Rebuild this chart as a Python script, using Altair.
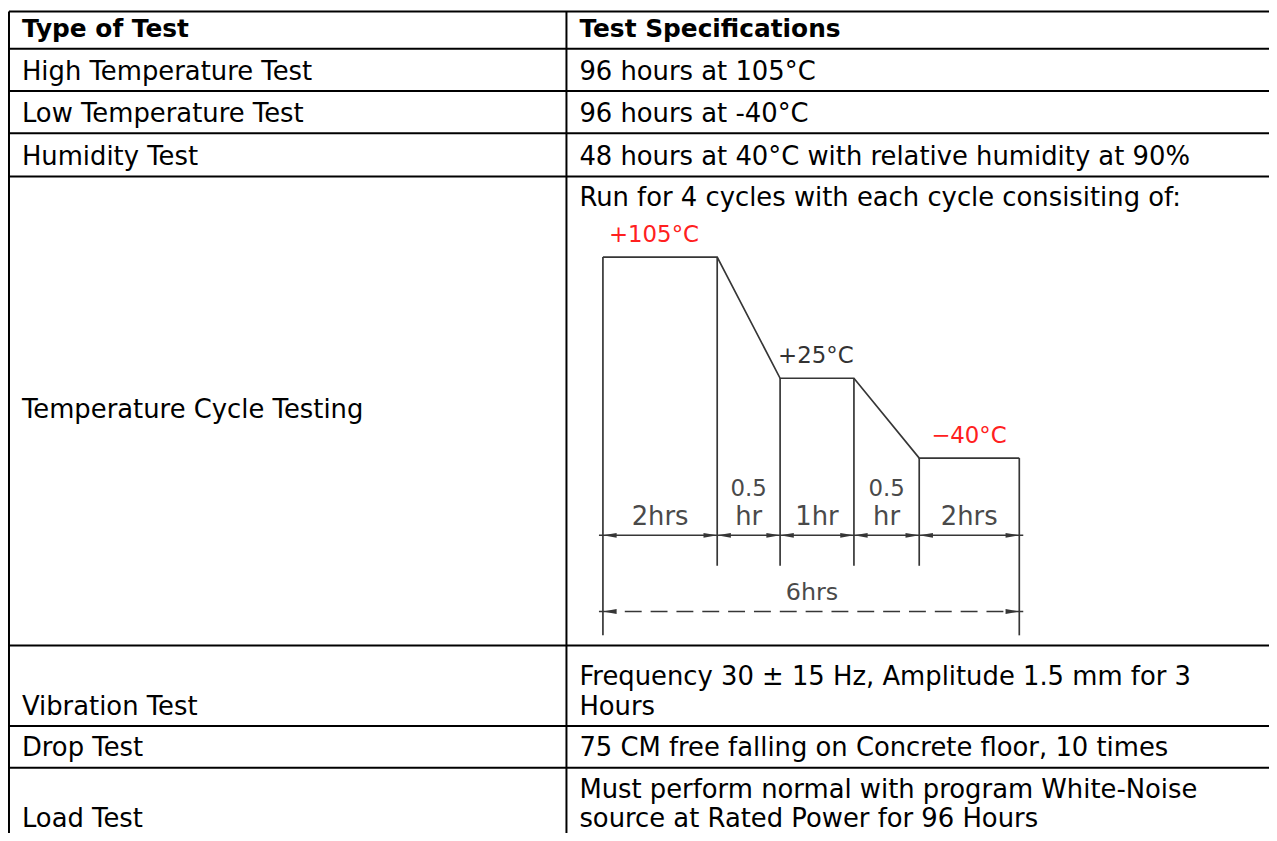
import altair as alt
import pandas as pd

# ---------------- data ----------------
test_types = ["Type of Test", "High Temperature Test", "Low Temperature Test", "Humidity Test",
              "Temperature Cycle Testing", "Vibration Test", "Drop Test", "Load Test"]
spec_lines = [
    ["Test Specifications"],
    ["96 hours at 105°C"],
    ["96 hours at -40°C"],
    ["48 hours at 40°C with relative humidity at 90%"],
    ["Run for 4 cycles with each cycle consisiting of:"],
    ["Frequency 30 ± 15 Hz, Amplitude 1.5 mm for 3", "Hours"],
    ["75 CM free falling on Concrete floor, 10 times"],
    ["Must perform normal with program White-Noise", "source at Rated Power for 96 Hours"],
]
phase_hours = [2, 0.5, 1, 0.5, 2]
phase_label_top = ["", "0.5", "", "0.5", ""]
phase_label_bottom = ["2hrs", "hr", "1hr", "hr", "2hrs"]
plateau_temps = [105, 25, -40]
plateau_labels = ["+105°C", "+25°C", "−40°C"]
total_label = "6hrs"

# ---------------- layout (page pixels) ----------------
PAGE_W, PAGE_H, MARGIN = 1277, 841, 8
W, H = PAGE_W - MARGIN, PAGE_H - 2 * MARGIN
row_bounds = [5, 46.5, 89, 131.5, 175, 647, 728, 770, 841]
border_x = [5, 570]
text_x = [22, 583]
BASE_GAP = 11.5
LINE_GAP = 29.5
FONT = "DejaVu Sans"
FS = 26
FS_HEAD = 25
VIS = MARGIN + 1
# schematic diagram layout
diag_x = [606.7, 721.7, 785, 859.3, 925, 1025.7]
diag_y = [458.3, 378, 256]          # for -40, +25, +105
inner_bottom, outer_bottom = 566.7, 636.7
dim_y, total_y = 536, 612.7
plateau_dx = [6, -2, 12]
plateau_colors = ["#ff2020", "#333333", "#ff2020"]
LINE_C = "#363636"
TXT_C = "#4a4a4a"

X = alt.Scale(domain=[MARGIN, MARGIN + W], range=[0, W], zero=False, nice=False)
Y = alt.Scale(domain=[MARGIN, MARGIN + H], range=[0, H], zero=False, nice=False)

hours_cum = [0.0]
for h in phase_hours:
    hours_cum.append(hours_cum[-1] + h)
DX = alt.Scale(domain=hours_cum, range=[p - MARGIN for p in diag_x], zero=False, nice=False)
temps_sorted = sorted(plateau_temps)
DY = alt.Scale(domain=temps_sorted, range=[p - MARGIN for p in diag_y], zero=False, nice=False)

# ---------------- table ----------------
hl = pd.DataFrame({"y": [max(b, VIS) for b in row_bounds],
                   "x1": [max(border_x[0], VIS)] * len(row_bounds),
                   "x2": [PAGE_W + 5] * len(row_bounds)})
vl = pd.DataFrame({"x": [max(b, VIS) for b in border_x],
                   "y1": [max(row_bounds[0], VIS)] * 2, "y2": [PAGE_H + 5] * 2})

hlines = alt.Chart(hl).mark_rule(color="black", strokeWidth=2).encode(
    x=alt.X("x1:Q", scale=X, axis=None), x2="x2:Q", y=alt.Y("y:Q", scale=Y, axis=None))
vlines = alt.Chart(vl).mark_rule(color="black", strokeWidth=2).encode(
    x=alt.X("x:Q", scale=X, axis=None), y=alt.Y("y1:Q", scale=Y, axis=None), y2="y2:Q")

left_rows, right_rows = [], []
for i, (name, lines) in enumerate(zip(test_types, spec_lines)):
    top, bottom = row_bounds[i], row_bounds[i + 1]
    if name == "Temperature Cycle Testing":
        left_rows.append({"i": i, "t": name, "x": text_x[0], "y": (top + bottom) / 2 + 7})
        for k, s in enumerate(lines):
            right_rows.append({"i": i, "t": s, "x": text_x[1], "y": top + 30 + k * LINE_GAP})
    else:
        left_rows.append({"i": i, "t": name, "x": text_x[0], "y": bottom - BASE_GAP})
        n = len(lines)
        for k, s in enumerate(lines):
            right_rows.append({"i": i, "t": s, "x": text_x[1],
                               "y": bottom - BASE_GAP - (n - 1 - k) * LINE_GAP})
txt = pd.DataFrame(left_rows + right_rows)


def text_layer(df, bold):
    return alt.Chart(df).mark_text(align="left", baseline="alphabetic", font=FONT,
                                   fontSize=FS_HEAD if bold else FS,
                                   fontWeight="bold" if bold else "normal", color="black").encode(
        x=alt.X("x:Q", scale=X, axis=None), y=alt.Y("y:Q", scale=Y, axis=None), text="t:N")


head_txt = text_layer(txt[txt["i"] == 0], True)
body_txt = text_layer(txt[txt["i"] > 0], False)

# ---------------- schematic temperature cycle ----------------
profile_t = [plateau_temps[0], plateau_temps[0], plateau_temps[1], plateau_temps[1],
             plateau_temps[2], plateau_temps[2]]
prof = pd.DataFrame({"h": hours_cum, "t": profile_t, "o": list(range(len(hours_cum)))})
profile = alt.Chart(prof).mark_line(color=LINE_C, strokeWidth=1.7).encode(
    x=alt.X("h:Q", scale=DX, axis=None), y=alt.Y("t:Q", scale=DY, axis=None), order="o:Q")

inner = prof.iloc[1:-1]
outer = prof.iloc[[0, -1]]
v_inner = alt.Chart(inner).mark_rule(color=LINE_C, strokeWidth=1.7).encode(
    x=alt.X("h:Q", scale=DX, axis=None), y=alt.Y("t:Q", scale=DY, axis=None),
    y2=alt.value(inner_bottom - MARGIN))
v_outer = alt.Chart(outer).mark_rule(color=LINE_C, strokeWidth=1.7).encode(
    x=alt.X("h:Q", scale=DX, axis=None), y=alt.Y("t:Q", scale=DY, axis=None),
    y2=alt.value(outer_bottom - MARGIN))

span = pd.DataFrame({"a": [hours_cum[0]], "b": [hours_cum[-1]]})
dim_line = alt.Chart(span).mark_rule(color=LINE_C, strokeWidth=1.7, xOffset=-4, x2Offset=4).encode(
    x=alt.X("a:Q", scale=DX, axis=None), x2="b:Q", y=alt.value(dim_y - MARGIN))
total_line = alt.Chart(span).mark_rule(color=LINE_C, strokeWidth=1.7, strokeDash=[17, 9],
                                       xOffset=-4, x2Offset=4).encode(
    x=alt.X("a:Q", scale=DX, axis=None), x2="b:Q", y=alt.value(total_y - MARGIN))

ARROW_L = "M0,0L2,-0.35L2,0.35Z"
ARROW_R = "M0,0L-2,-0.35L-2,0.35Z"
seg = pd.DataFrame({"s": hours_cum[:-1], "e": hours_cum[1:],
                    "m": [(a + b) / 2 for a, b in zip(hours_cum[:-1], hours_cum[1:])],
                    "top": phase_label_top, "bot": phase_label_bottom})


def arrows(df, field, shape, ypx):
    return alt.Chart(df).mark_point(shape=shape, filled=True, size=190, color=LINE_C,
                                    opacity=1, strokeWidth=0).encode(
        x=alt.X(f"{field}:Q", scale=DX, axis=None), y=alt.value(ypx - MARGIN))


arr = [arrows(seg, "s", ARROW_L, dim_y), arrows(seg, "e", ARROW_R, dim_y),
       arrows(span, "a", ARROW_L, total_y), arrows(span, "b", ARROW_R, total_y)]

DFONT = dict(font=FONT, color=TXT_C, align="center", baseline="alphabetic")
lab_bot = alt.Chart(seg).mark_text(fontSize=26, **DFONT).encode(
    x=alt.X("m:Q", scale=DX, axis=None), y=alt.value(526 - MARGIN), text="bot:N")
lab_top = alt.Chart(seg).mark_text(fontSize=23, **DFONT).encode(
    x=alt.X("m:Q", scale=DX, axis=None), y=alt.value(496 - MARGIN), text="top:N")
lab_total = alt.Chart(span).transform_calculate(
    lbl=f"'{total_label}'", m="(datum.a + datum.b) / 2").mark_text(
    fontSize=24, dx=-5, **DFONT).encode(
    x=alt.X("m:Q", scale=DX, axis=None), y=alt.value(601 - MARGIN), text="lbl:N")

plat_layers = []
plateau_start = [hours_cum[0], hours_cum[2], hours_cum[4]]
for t, lbl, h0, dx, c in zip(plateau_temps, plateau_labels, plateau_start, plateau_dx, plateau_colors):
    d = pd.DataFrame({"h": [h0], "t": [t], "lbl": [lbl]})
    plat_layers.append(alt.Chart(d).mark_text(font=FONT, fontSize=23, color=c, align="left",
                                              baseline="alphabetic", dx=dx, dy=-15).encode(
        x=alt.X("h:Q", scale=DX, axis=None), y=alt.Y("t:Q", scale=DY, axis=None), text="lbl:N"))

chart = alt.layer(
    hlines, vlines, head_txt, body_txt,
    profile, v_inner, v_outer, dim_line, total_line, *arr,
    lab_bot, lab_top, lab_total, *plat_layers
).resolve_scale(x="independent", y="independent").properties(
    width=W, height=H, padding=0, autosize=alt.AutoSizeParams(type="none"), background="white"
).configure_view(strokeWidth=0)

chart.save("out.html", embed_options={"renderer": "svg", "actions": False})
